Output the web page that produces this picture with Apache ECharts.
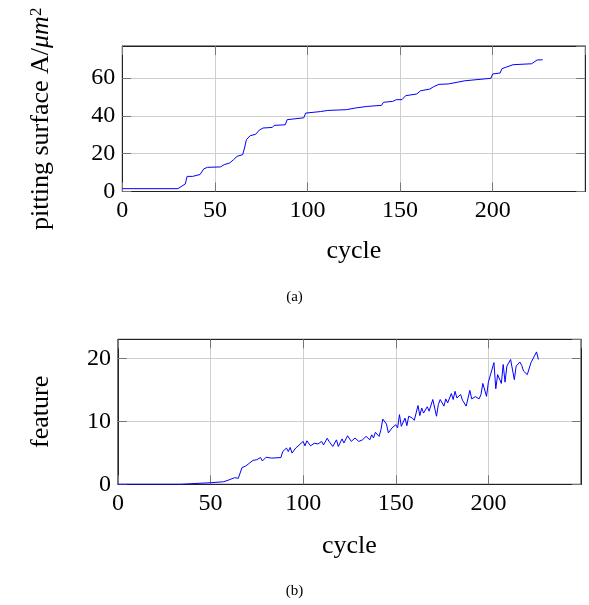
<!DOCTYPE html>
<html>
<head>
<meta charset="utf-8">
<script src="https://cdn.jsdelivr.net/npm/echarts@6/dist/echarts.min.js"></script>
<style>html,body{margin:0;padding:0;background:#fff}#c{width:589px;height:605px}</style>
</head>
<body>
<div id="c"></div>
<script>
// (a) pitting surface vs cycle (read points)
var cyclesA = [0,30,34,35,38,39,42,44,46,53,55,58,60,62,63,65,66,67,69,72,73,74,76,81,82,88,89,90,98,99,100,107,111,121,126,132,140,141,146,148,151,153,159,161,166,168,171,176,177,185,186,199,200,204,205,207,211,221,224,227];
var surfaceA = [1.5,1.5,4,8,8,9,9,12,12.8,13,14.2,15.1,16.8,18.6,19.1,19.5,23,27.4,29.5,30.3,30.9,32.5,33.6,33.9,35,35.3,38,38.5,39,41.5,42.1,42.3,42.9,43.3,44.2,45,45.6,47.2,47.7,48.6,48.6,50.7,51.6,53.3,54.2,55.4,56.7,56.9,57.9,58.6,59.2,59.9,62.2,62.7,65,65.7,67.1,67.6,69.6,69.7];
// (b) feature vs cycle (read points)
var cyclesB = [0,34,40,50,57,60,63,65,67,69,71,73,75,77,78,80,83,88,89,91,92,93,94,96,97,100,101,102,104,106,108,110,111,113,114,116,118,119,121,122,124,126,128,130,132,134,136,137,138,139,141,142,143,145,146,148,150,151,152,153,155,156,157,159,160,162,163,164,165,167,168,170,172,173,174,176,177,178,180,181,182,183,185,186,188,190,191,193,195,196,197,199,200,201,203,204,205,207,208,209,210,212,213,214,215,217,218,219,221,223,224,226,227];
var featureB = [0,0,0.1,0.25,0.4,0.7,1.05,0.95,2.65,2.9,3.35,3.8,3.9,4.25,3.7,4.3,4.15,4.25,5.2,5.75,5.2,5.85,4.95,5.75,5.5,6.8,6.1,6.9,6.1,6.5,6.4,6.8,6.25,7.3,6.8,6.0,7.05,6.0,7.2,6.55,7.7,6.8,7.35,6.8,7.05,7.6,7.05,7.85,7.35,8.25,7.6,8.65,10.35,9.55,8.15,8.95,9.45,8.95,11.05,9.2,10.5,9.3,10.8,10.5,10.15,12.5,10.9,12.1,11.3,12.3,11.6,13.45,10.8,12.65,13.45,12.4,13.55,12.9,14.4,13.45,14.75,13.7,14.25,13.35,12.4,14.9,13.55,13.9,13.55,14.25,16,13.95,16.2,16.35,19.3,15.15,17.4,16,19.0,16.2,18.75,19.8,19.7,16.6,18.75,19.4,18.85,17.95,17.4,19.3,19.0,21.0,19.8];
var xTicks = {min:0, max:250, interval:50};
var yTicksA = {min:0, max:77, interval:20};
var yTicksB = {min:0, max:23, interval:10};

function zip(a,b){var r=[];for(var i=0;i<a.length;i++)r.push([a[i],b[i]]);return r;}

var FF = 'Liberation Serif';
function mainAxis(grid, t, pos, name, gap){
  return {type:'value', gridIndex:grid, min:t.min, max:t.max, interval:t.interval, position:pos,
    axisLine:{show:true, onZero:false, lineStyle:{color:'#222', width:1}},
    axisTick:{show:true, inside:true, length:9, lineStyle:{color:'#777', width:1}},
    axisLabel:{show:true, showMaxLabel:false, fontFamily:FF, fontSize:24, color:'#000', margin:7},
    splitLine:{show:true, lineStyle:{color:'#cfcfcf', width:1}},
    name:name, nameLocation:'middle', nameGap:gap, nameMoveOverlap:false,
    nameTextStyle:{fontFamily:FF, fontSize:26, color:'#000'}};
}
function sideAxis(grid, t, pos){
  return {type:'value', gridIndex:grid, min:t.min, max:t.max, interval:t.interval, position:pos, offset:0,
    axisLine:{show:true, onZero:false, lineStyle:{color:'#222', width:1}},
    axisTick:{show:true, inside:true, length:9, lineStyle:{color:'#777', width:1}},
    axisLabel:{show:false}, splitLine:{show:false}};
}
var yA = mainAxis(0,yTicksA,'left','pitting surface A/{it|μm}{sup|2}',68);
yA.nameTextStyle.rich = {it:{fontFamily:FF, fontStyle:'italic', fontSize:26, color:'#000'}, sup:{fontFamily:FF, fontSize:17, color:'#000', verticalAlign:'top'}};
var yB = mainAxis(1,yTicksB,'left','feature',64);

var chart = echarts.init(document.getElementById('c'), null, {renderer:'canvas'});
chart.setOption({
  animation:false,
  backgroundColor:'#fff',
  grid:[
    {left:122.3, right:3.7, top:46, height:145.5, containLabel:false, outerBoundsMode:'none', show:true, borderColor:'#222', borderWidth:1, backgroundColor:'transparent'},
    {left:117.9, right:8, top:339.3, height:145, containLabel:false, outerBoundsMode:'none', show:true, borderColor:'#222', borderWidth:1, backgroundColor:'transparent'}
  ],
  xAxis:[
    mainAxis(0,xTicks,'bottom','cycle',47),
    sideAxis(0,xTicks,'top'),
    mainAxis(1,xTicks,'bottom','cycle',49),
    sideAxis(1,xTicks,'top')
  ],
  yAxis:[yA, sideAxis(0,yTicksA,'right'), yB, sideAxis(1,yTicksB,'right')],
  series:[
    {type:'line', xAxisIndex:0, yAxisIndex:0, data:zip(cyclesA,surfaceA), showSymbol:false, symbol:'none', lineStyle:{color:'#0000ff', width:1}},
    {type:'line', xAxisIndex:2, yAxisIndex:2, data:zip(cyclesB,featureB), showSymbol:false, symbol:'none', lineStyle:{color:'#0000ff', width:1}}
  ],
  graphic:[
    {type:'text', left:'center', top:290, style:{text:'(a)', font:'15px "Liberation Serif"', fill:'#000'}},
    {type:'text', left:'center', top:584, style:{text:'(b)', font:'15px "Liberation Serif"', fill:'#000'}}
  ]
});
</script>
</body>
</html>
